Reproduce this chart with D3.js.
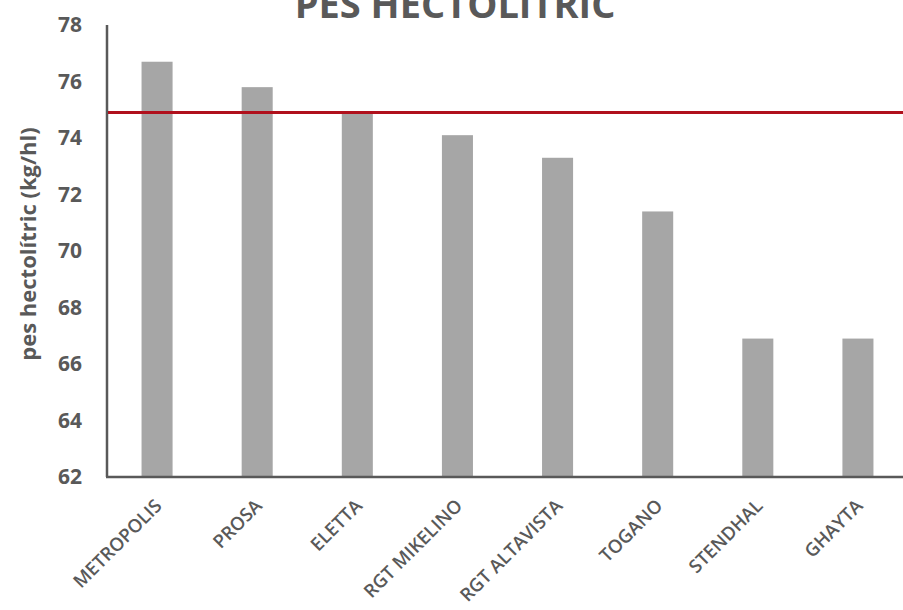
<!DOCTYPE html>
<html><head><meta charset="utf-8">
<script src="https://cdn.jsdelivr.net/npm/d3@7"></script>
<style>body{margin:0;background:#fff}svg{display:block}</style>
</head><body>
<script>
const categories = ["METROPOLIS","PROSA","ELETTA","RGT MIKELINO","RGT ALTAVISTA","TOGANO","STENDHAL","GHAYTA"];
const values = [76.7, 75.8, 74.9, 74.1, 73.3, 71.4, 66.9, 66.9];
const referenceValue = [74.9];
const yTicks = [62,64,66,68,70,72,74,76,78];
const title = "PES HECTOLITRIC";
const yTitle = "pes hectolítric (kg/hl)";

const W = 903, H = 610;
const svg = d3.select("body").append("svg").attr("width", W).attr("height", H);
const font = "'Open Sans', 'Liberation Sans', sans-serif";
const grey = "#595959";

const x = d3.scaleBand().domain(categories).range([107, 908]).paddingInner(0.69).paddingOuter(0.345);
const y = d3.scaleLinear().domain([62, 78]).range([477, 25]);

// bars
svg.append("g").selectAll("rect").data(values).join("rect")
  .attr("x", (d,i) => x(categories[i]))
  .attr("y", d => y(d))
  .attr("width", x.bandwidth())
  .attr("height", d => y(62) - y(d))
  .attr("fill", "#A6A6A6");

// y axis
const yAxis = d3.axisLeft(y).tickValues(yTicks).tickSize(0).tickPadding(25);
const gy = svg.append("g").attr("transform", "translate(107,0)").call(yAxis);
gy.select(".domain").attr("stroke", grey).attr("stroke-width", 2.5).attr("d", "M0,25V477");
gy.selectAll("text").attr("font-family", font).attr("font-weight", 700).attr("font-size", 21).attr("fill", grey);

// x axis
const xAxis = d3.axisBottom(x).tickSize(0).tickPadding(0);
const gx = svg.append("g").attr("transform", "translate(0,477)").call(xAxis);
gx.select(".domain").attr("stroke", grey).attr("stroke-width", 2.5).attr("d", "M106,0H908");
gx.selectAll("text")
  .attr("font-family", font).attr("font-weight", 600).attr("font-size", 18.5).attr("fill", grey)
  .attr("text-anchor", "end").attr("dy", 0)
  .attr("transform", "translate(6,30) rotate(-45)");

// reference line
svg.append("g").selectAll("line").data(referenceValue).join("line")
  .attr("x1", 108).attr("x2", 903)
  .attr("y1", d => y(d)).attr("y2", d => y(d))
  .attr("stroke", "#B0101C").attr("stroke-width", 3);

// titles
svg.append("text").attr("x", 455).attr("y", 18).attr("text-anchor", "middle")
  .attr("font-family", font).attr("font-weight", 700).attr("font-size", 38).attr("fill", grey)
  .text(title);
svg.append("text").attr("transform", "translate(36,244) rotate(-90)").attr("text-anchor", "middle")
  .attr("font-family", font).attr("font-weight", 700).attr("font-size", 22).attr("fill", grey)
  .text(yTitle);
</script>
</body></html>
